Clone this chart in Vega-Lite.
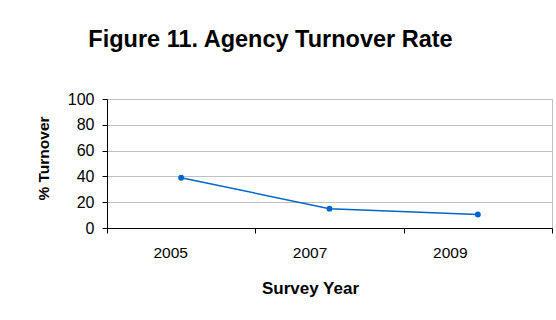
{
  "$schema": "https://vega.github.io/schema/vega-lite/v6.json",
  "width": 445,
  "height": 129,
  "autosize": "none",
  "padding": {"left": 107, "right": 4, "top": 99, "bottom": 92},
  "background": "white",
  "config": {
    "font": "Liberation Sans",
    "view": {"stroke": "#c0c0c0", "strokeWidth": 1},
    "axis": {"labelColor": "black", "titleColor": "black", "domainColor": "black", "tickColor": "black"}
  },
  "title": {
    "text": "Figure 11. Agency Turnover Rate",
    "fontSize": 23.5,
    "fontWeight": "bold",
    "font": "Liberation Sans",
    "color": "black",
    "anchor": "middle",
    "dx": -59,
    "offset": 40
  },
  "data": {
    "values": [
      {"year": "2005", "turnover": 39},
      {"year": "2007", "turnover": 15},
      {"year": "2009", "turnover": 10.5}
    ]
  },
  "encoding": {
    "x": {
      "field": "year",
      "type": "ordinal",
      "scale": {"paddingInner": 0, "paddingOuter": 0},
      "axis": {
        "title": "Survey Year",
        "labelAngle": 0,
        "labelFontSize": 15.5,
        "labelPadding": 12,
        "tickSize": 5,
        "tickBand": "extent",
        "grid": false,
        "labelOffset": {"condition": [{"test": "datum.value == '2005'", "value": -11}, {"test": "datum.value == '2007'", "value": -20}], "value": -28},
        "titleFontSize": 17,
        "titleFontWeight": "bold",
        "titleX": 203,
        "titleY": 65,
        "titleBaseline": "alphabetic",
        "titleAlign": "center",
        "titleAnchor": null
      }
    },
    "y": {
      "field": "turnover",
      "type": "quantitative",
      "scale": {"domain": [0, 100], "nice": false},
      "axis": {
        "title": "% Turnover",
        "values": [0, 20, 40, 60, 80, 100],
        "labelFontSize": 16,
        "labelPadding": 8,
        "tickSize": 5,
        "gridColor": "#c0c0c0",
        "titleFontSize": 15.5,
        "titleFontWeight": "bold",
        "titleAngle": 270,
        "titleX": -64,
        "titleY": 59,
        "titleBaseline": "middle",
        "titleAlign": "center"
      }
    }
  },
  "layer": [
    {"mark": {"type": "line", "color": "#0066cc", "strokeWidth": 1.5}},
    {"mark": {"type": "point", "filled": true, "color": "#0066cc", "size": 35, "opacity": 1}}
  ]
}
